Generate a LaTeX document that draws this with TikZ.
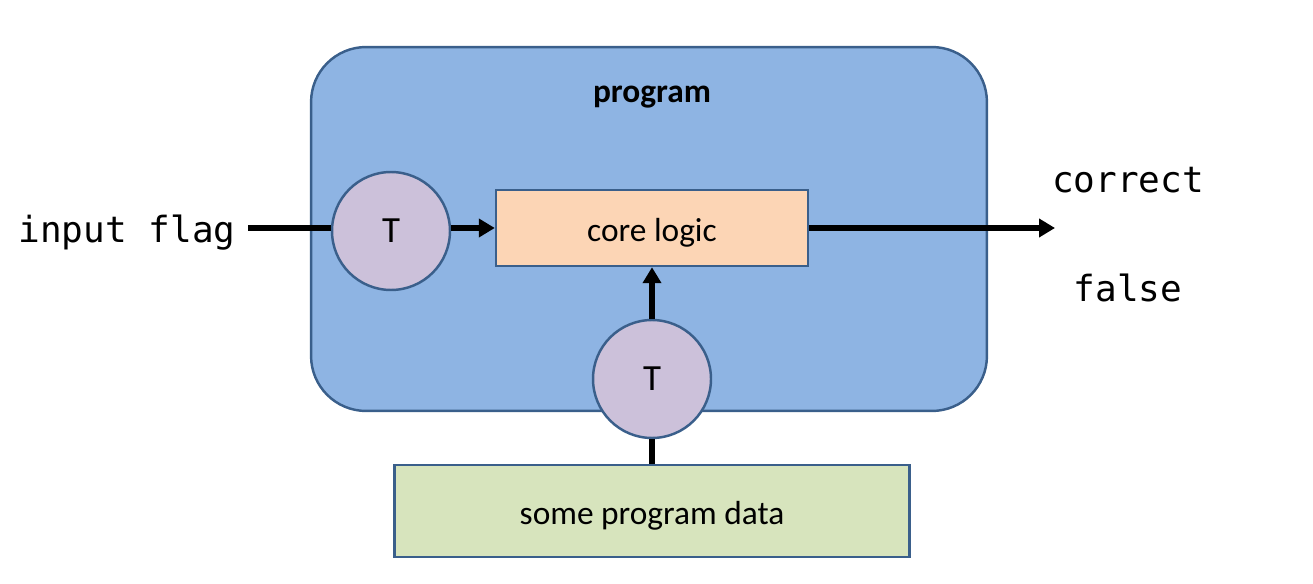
\documentclass[tikz,border=0pt]{standalone}
\usepackage{fontspec}
\setmainfont{Carlito}
\newfontfamily\codefont{DejaVu Sans Mono}
\usetikzlibrary{arrows.meta}
\definecolor{progblue}{HTML}{8EB4E3}
\definecolor{edgeblue}{HTML}{3A5F8B}
\definecolor{tokenlilac}{HTML}{CCC1DA}
\definecolor{corepeach}{HTML}{FCD5B5}
\definecolor{datagreen}{HTML}{D7E4BD}
\tikzset{flow/.style={draw=black, line width=3.4pt}}
\tikzset{token/.style={circle, draw=edgeblue, line width=1.4pt, fill=tokenlilac,
                       minimum size=2.36cm, inner sep=0pt, font=\fontsize{21}{25}\selectfont}}

\begin{document}
\begin{tikzpicture}[
  x=0.02cm,y=-0.02cm,
  font=\fontsize{19}{23}\selectfont,
  >={Triangle[length=0.32cm, width=0.36cm]},
  frame/.style={rounded corners=1.1cm, draw=edgeblue, fill=progblue, line width=1.4pt},
  block/.style={draw=edgeblue, line width=1.4pt, inner sep=0pt, text height=14.8pt, text depth=0pt},
  code/.style={font=\codefont\fontsize{20.5}{24}\selectfont, inner sep=0pt}
]
  \useasboundingbox (0,0) rectangle (1313,584);

  \node[frame, minimum width=13.52cm, minimum height=7.28cm] (prog) at (649,229) {};
  \node[font=\bfseries\fontsize{19}{23}\selectfont] (title) at (652,97) {program};

  \node[block, fill=corepeach, minimum width=6.24cm, minimum height=1.52cm] (core) at (652,228) {core logic};
  \node[token] (t1) at (391,231) {T};
  \node[token] (t2) at (652,379) {T};
  \node[block, fill=datagreen, minimum width=10.3cm, minimum height=1.84cm] (data) at (652,511) {some program data};

  \node[code, inner xsep=7pt] (inp) at (127,233) {input flag};
  \node[code] (yes) at (1128,180) {correct};
  \node[code] (no) at (1128,288) {false};
  \coordinate (res) at (1055,228);

  \draw[flow] (inp.east |- core.west) -- (t1.west |- core.west);
  \draw[flow, ->] (t1.east |- core.west) -- (core.west);
  \draw[flow, ->] (core.east) -- (res);
  \draw[flow] (data.north) -- (t2.south);
  \draw[flow, ->] (t2.north) -- (core.south);
\end{tikzpicture}
\end{document}
